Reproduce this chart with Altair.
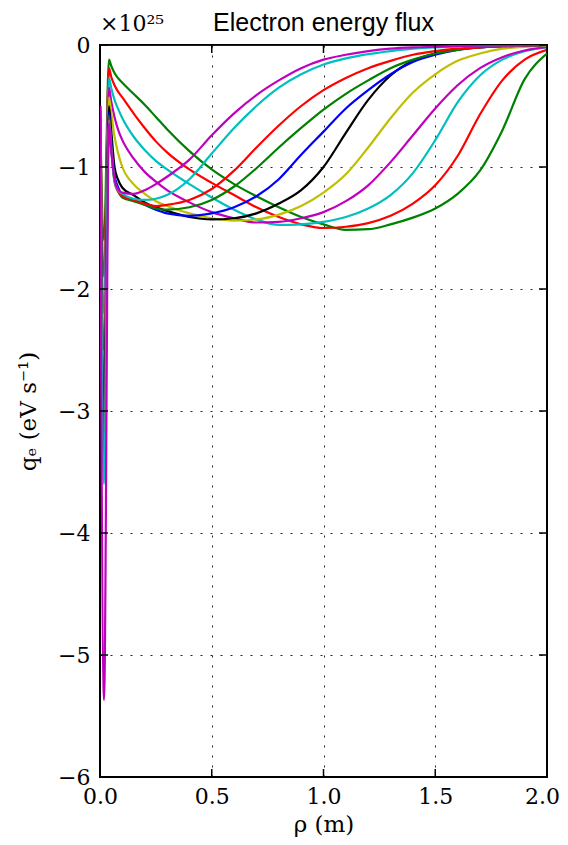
import altair as alt
import pandas as pd

# radial coordinate (m)
rho = [0.0, 0.018, 0.04, 0.05, 0.065, 0.08, 0.1, 0.15, 0.2, 0.25, 0.3, 0.4, 0.5,
       0.6, 0.7, 0.8, 0.9, 1.0, 1.1, 1.2, 1.3, 1.4, 1.5, 1.6, 1.7, 1.8, 1.9, 2.0]

# electron energy flux, units of 1e25 eV/s
q0 = [0.0, 0.0, 0.0, 0.0, 0.0, 0.0, 0.0, 0.0, 0.0, 0.0, 0.0, 0.0, 0.0, 0.0,
      0.0, 0.0, 0.0, 0.0, 0.0, 0.0, 0.0, 0.0, 0.0, 0.0, 0.0, 0.0, 0.0, 0.0]
q1 = [-0.5, -1.6, -0.12, -0.17, -0.23, -0.27, -0.31, -0.40, -0.49, -0.59, -0.69, -0.87, -1.02,
      -1.14, -1.24, -1.33, -1.41, -1.47, -1.515, -1.51, -1.47, -1.415, -1.34, -1.22, -1.03, -0.70, -0.28, -0.07]
q2 = [-0.5, -1.9, -0.19, -0.26, -0.33, -0.38, -0.43, -0.56, -0.68, -0.79, -0.88, -1.02, -1.13,
      -1.23, -1.33, -1.41, -1.47, -1.50, -1.49, -1.46, -1.40, -1.30, -1.15, -0.91, -0.57, -0.29, -0.12, -0.04]
q3 = [-0.5, -2.2, -0.27, -0.35, -0.45, -0.52, -0.60, -0.75, -0.86, -0.95, -1.02, -1.14, -1.25,
      -1.35, -1.43, -1.475, -1.47, -1.45, -1.41, -1.34, -1.23, -1.05, -0.78, -0.47, -0.25, -0.12, -0.05, -0.02]
q4 = [-0.5, -2.5, -0.35, -0.46, -0.59, -0.69, -0.78, -0.93, -1.04, -1.12, -1.19, -1.29, -1.37,
      -1.42, -1.455, -1.45, -1.42, -1.37, -1.28, -1.15, -0.96, -0.74, -0.52, -0.33, -0.19, -0.10, -0.045, -0.015]
q5 = [-0.5, -2.8, -0.43, -0.55, -0.75, -0.88, -1.00, -1.14, -1.22, -1.28, -1.32, -1.38, -1.42,
      -1.44, -1.43, -1.39, -1.32, -1.21, -1.06, -0.84, -0.60, -0.39, -0.24, -0.13, -0.07, -0.03, -0.015, -0.005]
q6 = [-0.5, -3.0, -0.50, -0.70, -1.00, -1.10, -1.17, -1.23, -1.29, -1.33, -1.36, -1.41, -1.43,
      -1.42, -1.38, -1.30, -1.19, -1.00, -0.72, -0.45, -0.25, -0.13, -0.07, -0.035, -0.017, -0.008, -0.003, 0.0]
q7 = [-0.5, -3.2, -0.55, -0.78, -1.07, -1.16, -1.23, -1.27, -1.31, -1.35, -1.38, -1.40, -1.38,
      -1.33, -1.24, -1.10, -0.90, -0.71, -0.52, -0.37, -0.24, -0.14, -0.08, -0.04, -0.02, -0.01, -0.005, 0.0]
q8 = [-0.5, -3.4, -0.58, -0.82, -1.10, -1.19, -1.25, -1.28, -1.31, -1.34, -1.35, -1.33, -1.27,
      -1.16, -1.01, -0.84, -0.68, -0.53, -0.40, -0.29, -0.19, -0.12, -0.07, -0.04, -0.02, -0.01, -0.005, 0.0]
q9 = [-0.5, -3.5, -0.60, -0.84, -1.12, -1.20, -1.24, -1.27, -1.30, -1.32, -1.31, -1.27, -1.18,
      -1.03, -0.84, -0.66, -0.50, -0.37, -0.27, -0.19, -0.13, -0.08, -0.05, -0.03, -0.02, -0.01, -0.005, 0.0]
q10 = [-0.5, -3.6, -0.62, -0.85, -1.12, -1.19, -1.22, -1.26, -1.27, -1.26, -1.23, -1.10, -0.89,
       -0.68, -0.50, -0.35, -0.24, -0.16, -0.11, -0.075, -0.05, -0.03, -0.02, -0.012, -0.007, -0.004, -0.002, 0.0]
q11 = [-0.5, -5.37, -0.64, -0.86, -1.10, -1.18, -1.21, -1.22, -1.19, -1.14, -1.08, -0.94, -0.74,
       -0.56, -0.41, -0.29, -0.19, -0.12, -0.08, -0.05, -0.03, -0.02, -0.015, -0.01, -0.005, -0.003, -0.001, 0.0]

series = [q0, q1, q2, q3, q4, q5, q6, q7, q8, q9, q10, q11]
colors = ["#0000ff", "#008000", "#ff0000", "#00bfbf", "#bf00bf", "#bfbf00", "#000000",
          "#0000ff", "#008000", "#ff0000", "#00bfbf", "#bf00bf"]

x_ticks = [0.0, 0.5, 1.0, 1.5, 2.0]
y_ticks = [0, -1, -2, -3, -4, -5, -6]

W, H = 447, 732

rows = []
for i, vals in enumerate(series):
    for r, v in zip(rho, vals):
        rows.append({"rho": r, "q": v, "s": i})
df = pd.DataFrame(rows)

xsc = alt.Scale(domain=[0, 2], nice=False, zero=False, padding=0)
ysc = alt.Scale(domain=[-6, 0], nice=False, zero=False, padding=0)

x_axis = alt.Axis(values=x_ticks, format=".1f", title="ρ (m)", grid=True, ticks=False,
                  domain=False, labelPadding=9, labelFlush=False,
                  labelOffset={"condition": {"test": "datum.value >= 2", "value": -5}, "value": 0},
                  titleX=W / 2, titleY=47, titleBaseline="middle", titleAlign="center")
y_axis = alt.Axis(values=y_ticks, format="d", title="qₑ (eV s⁻¹)", grid=True, ticks=False,
                  domain=False, labelPadding=10, labelFlush=False, titleX=-72, titleY=H / 2,
                  titleBaseline="middle", titleAlign="center", titleAngle=-90)

X = alt.X("rho:Q", scale=xsc, axis=x_axis)
Y = alt.Y("q:Q", scale=ysc, axis=y_axis)

layers = []
for i, col in enumerate(colors):
    layers.append(
        alt.Chart(df).transform_filter(alt.datum.s == i)
        .mark_line(color=col, strokeWidth=2.2, interpolate="monotone", clip=True)
        .encode(x=X, y=Y)
    )

xt = pd.DataFrame({"rho": x_ticks})
yt = pd.DataFrame({"q": y_ticks})
tick_style = dict(color="black", strokeWidth=1.5)
ticks = [
    alt.Chart(yt).mark_rule(**tick_style).encode(y=Y, x=alt.value(0), x2=alt.value(8)),
    alt.Chart(yt).mark_rule(**tick_style).encode(y=Y, x=alt.value(W - 8), x2=alt.value(W)),
    alt.Chart(xt).mark_rule(**tick_style).encode(x=X, y=alt.value(H), y2=alt.value(H - 8)),
    alt.Chart(xt).mark_rule(**tick_style).encode(x=X, y=alt.value(0), y2=alt.value(8)),
]

offset_text = alt.Chart(pd.DataFrame({"t": ["×10²⁵"]})).mark_text(
    font="DejaVu Serif", fontSize=22, align="left", baseline="alphabetic", color="black"
).encode(text="t:N", x=alt.value(0), y=alt.value(-14))

title_text = alt.Chart(pd.DataFrame({"t": ["Electron energy flux"]})).mark_text(
    font="Liberation Sans", fontSize=25, align="center", baseline="alphabetic", color="black"
).encode(text="t:N", x=alt.value(W / 2), y=alt.value(-14))

chart = alt.layer(*layers, *ticks, offset_text, title_text).properties(
    width=W, height=H,
    autosize=alt.AutoSizeParams(type="none"),
    padding={"left": 92, "top": 37, "right": 13, "bottom": 60},
).configure_view(stroke="black", strokeWidth=2).configure_axis(
    gridColor="black", gridDash=[2, 8], gridWidth=1, gridOpacity=0.85,
    labelFont="DejaVu Serif", labelFontSize=22, labelColor="black",
    titleFont="DejaVu Serif", titleFontSize=23, titleFontWeight="normal", titleColor="black"
)

chart.save("out.html", embed_options={"renderer": "svg", "actions": False})
